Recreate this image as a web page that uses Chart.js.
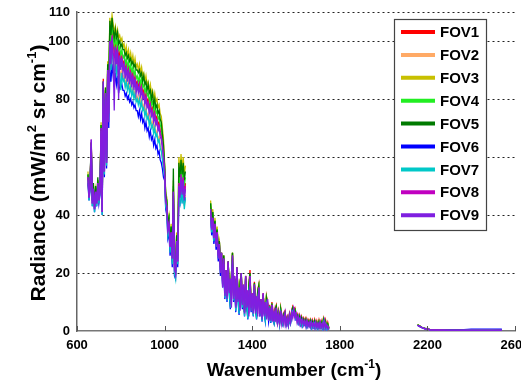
<!DOCTYPE html>
<html>
<head>
<meta charset="utf-8">
<script src="https://cdn.jsdelivr.net/npm/chart.js@4/dist/chart.umd.min.js"></script>
<style>
  html, body { margin: 0; padding: 0; background: #fff; }
</style>
</head>
<body>
<canvas id="spectra" width="521" height="382"></canvas>
<script>
// wavenumber grids of the three bands (cm-1)
const range = (a, b, step) => { const out = []; for (let v = a; v <= b; v += step) out.push(v); return out; };
const wnLW = range(650, 1095, 5);
const wnMW = range(1210, 1750, 5);
const wnSW = [2155, 2165, 2175, 2185, 2195, 2200, 2210, 2250, 2300, 2350, 2400, 2450, 2500, 2540];

const xTicks = [600, 1000, 1400, 1800, 2200, 2600];
const yTicks = [0, 20, 40, 60, 80, 100, 110];

const fovNames = ['FOV1', 'FOV2', 'FOV3', 'FOV4', 'FOV5', 'FOV6', 'FOV7', 'FOV8', 'FOV9'];
const fovColors = ['#ff0000', '#ffaa66', '#c8c000', '#22ee22', '#007a00', '#0000ff', '#00c8c8', '#c000c0', '#7f1fe0'];

// radiance, mW/(m2 sr cm-1) -- long-wave band
const fov1LW = [53,46,51,65,45,49,43,48,45,51,46, 49,71,42,87,56,83,59,91,
  80,103,97,104,99,96,101,95,99,94,96,93, 95,92,93,90,92,89,91,88,90,87,89,86,88,85,86,
  84,86,83,85,82,83,80,82,79,80,77,79,76,77,74,76,73,74,71,72,69,68,65,61,
  56,46,44,36,38,30,35,26,49,23,21,32,25, 52,48,55,49,54,47,51];
const fov2LW = [52,46,50,65,44,48,42,47,44,50,45, 48,69,41,85,55,81,58,89,
  74,96,91,98,92,88,94,90,93,86,90,88, 90,87,88,85,87,84,86,83,85,82,84,81,83,80,81,
  79,81,78,80,77,78,75,77,74,75,72,74,71,72,69,71,68,69,66,67,64,63,60,57,
  54,44,42,34,36,28,33,24,47,21,19,30,23, 48,44,51,45,50,43,47];
const fov3LW = [55,48,52,64,46,50,44,49,46,52,47, 50,72,43,86,58,84,61,93,
  88,108,104,109,106,103,105,102,104,101,102,100, 101,98,99,96,98,95,97,94,96,93,95,92,94,91,92,
  90,92,89,91,88,89,86,88,85,86,83,85,82,83,80,82,79,80,77,78,75,74,70,66,
  58,48,46,38,40,32,37,28,52,24,22,34,27, 60,55,61,56,60,54,57];
const fov4LW = [54,47,52,65,45,50,43,49,45,52,46, 49,71,42,86,57,83,60,92,
  84,105,100,106,102,98,101,98,100,97,98,95, 97,94,95,92,94,91,93,90,92,89,91,88,90,87,88,
  86,88,85,87,84,85,82,84,81,82,79,81,78,79,76,78,75,76,73,74,71,70,66,62,
  57,47,45,37,39,31,36,27,50,23,21,33,26, 56,51,57,52,56,50,53];
const fov5LW = [54,47,53,65,45,51,43,50,45,53,46, 50,71,43,86,57,84,60,92,
  86,107,102,108,104,101,104,101,103,99,100,98, 99,97,97,95,96,94,95,93,94,92,93,91,92,90,90,
  89,90,88,89,86,88,85,86,83,85,82,83,80,82,78,80,77,78,75,76,73,72,68,64,
  57,47,45,37,39,31,36,27,56,24,22,33,26, 58,53,59,54,58,52,55];
const fov6LW = [51,45,49,63,43,47,41,46,43,49,44, 47,68,40,84,53,80,56,86,
  70,90,86,92,88,84,89,85,88,82,85,84, 85,83,83,81,82,80,81,79,80,78,79,77,78,76,76,
  74,76,73,75,72,73,70,72,69,70,67,69,66,67,64,66,63,64,61,62,59,58,56,53,
  52,42,40,32,34,26,31,22,44,19,18,28,22, 46,44,48,45,47,44,46];
const fov7LW = [52,45,50,64,43,48,41,47,43,50,44, 48,69,40,85,54,81,57,88,
  73,95,90,97,93,85,93,89,92,84,89,83, 89,86,87,84,86,83,85,82,84,81,83,80,82,79,80,
  78,80,77,79,76,77,74,76,73,74,71,73,70,71,68,70,67,68,65,66,63,62,59,56,
  53,43,41,33,35,27,32,23,45,20,18,29,23, 47,43,50,44,49,42,46];
const fov8LW = [53,46,51,66,44,49,42,48,44,51,45, 48,70,41,86,55,82,58,90,
  75,100,94,102,96,94,98,94,97,92,94,92, 94,91,92,89,91,88,90,87,89,86,88,85,87,84,85,
  83,85,82,84,81,82,79,81,78,79,76,78,75,76,73,75,72,73,70,71,68,67,64,60,
  55,45,43,35,37,29,34,25,48,22,20,31,24, 51,47,54,48,53,46,50];
const fov9LW = [53,46,51,66,44,49,42,48,44,51,45, 48,70,41,86,55,82,58,90,
  72,100,92,101,94,76,98,92,97,80,95,90, 94,89,92,87,91,86,90,85,89,84,88,83,87,82,85,
  82,84,81,83,80,81,78,80,77,78,75,77,74,75,72,74,71,72,69,70,67,66,63,60,
  55,45,43,35,37,29,34,25,48,22,20,31,24, 50,46,53,47,52,45,49];

// mid-wave band
const fov1MW = [43,37,40,34,38,32,35,28,31,23, 27,19,26,14,21,13,24,16,10,19,
  27,13,18,9,22,14,8,17,20,10, 15,7,19,11,6,16,21,9,13,7,
  17,10,6,14,16,7,11,5,13,8, 5,12,10,5,9,4.5,10,6,4,8,
  9,4.5,7,3.5,8,5,3.5,6.5,7,3.5, 5,3,6,4,7,8.5,7.5,8,5.5,6,
  4,5.5,3.5,5,3,4.5,3.5,4.5,2.5,4, 3,4,2,3.8,2.5,4,2,3.5,1.8,3.8,
  2,3.5,1.8,4.2,2,3.8,1.5,3,1.2];
const fov2MW = [41,35,38,32,36,30,33,26,29,21, 25,17,24,12,19,11,22,14,8.5,17,
  25,11,16,7.5,20,12,6.5,15,18,8.5, 13,5.5,17,9.5,4.5,14,18,7.5,11,5.5,
  15,8.5,4.5,12,14,5.5,9.5,3.8,11,6.5, 3.8,10,8.5,3.8,7.5,3.2,8.5,4.5,2.8,6.5,
  7.5,3.2,5.5,2.3,6.5,3.8,2.3,5,5.5,2.3, 3.8,1.8,4.5,2.8,5.5,7,6,6.5,4.2,4.5,
  2.8,4.2,2.3,3.8,1.8,3.2,2.3,3.2,1.4,2.8, 1.8,3,1.1,2.6,1.4,2.8,1.1,2.3,0.9,2.6,
  1.1,2.3,0.9,3.2,1.1,2.6,0.7,1.8,0.5];
const fov3MW = [45,39,42,35,39,33,36,29,31,23, 27,19,26,14,21,13,24,16,9.5,19,
  27,12.5,18,8.5,22,13.5,7.5,16.5,20,9.5, 14.5,6.5,18.5,10.5,5.5,15.5,19.5,8.5,12.5,6.5,
  16.5,9.5,5.5,13.5,15.5,6.5,10.5,4.5,12.5,7.5, 4.5,11.5,9.5,4.5,8.5,4,9.5,5.5,3.5,7.5,
  8.5,4,6.5,3,7.5,4.5,3,6,6.5,3, 4.5,2.5,5.5,3.5,6.5,8,7,7.5,5,5.5,
  3.5,5,3,4.5,2.5,4,3,4,2,3.5, 2.5,3.6,1.6,3.2,2,3.4,1.6,3,1.4,3.2,
  1.6,3,1.4,3.8,1.6,3.2,1.2,2.4,0.9];
const fov4MW = [44,38,41,34,38,32,35,28,31,23, 27,19,26,14,21,13,24,16,9.5,19,
  27,12.5,18,8.5,22,13.5,7.5,16.5,20,9.5, 14.5,6.5,18.5,10.5,5.5,15.5,19.5,8.5,12.5,6.5,
  16.5,9.5,5.5,13.5,15.5,6.5,10.5,4.5,12.5,7.5, 4.5,11.5,9.5,4.5,8.5,4,9.5,5.5,3.5,7.5,
  8.5,4,6.5,3,7.5,4.5,3,6,6.5,3, 4.5,2.5,5.5,3.5,6.5,8,7,7.5,5,5.5,
  3.5,5,3,4.5,2.5,4,3,4,2,3.5, 2.5,3.6,1.6,3.2,2,3.4,1.6,3,1.4,3.2,
  1.6,3,1.4,3.8,1.6,3.2,1.2,2.4,0.9];
const fov5MW = [44,38,41,35,38,32,35,28,31,23, 27,19,26,14,21,13,24,16,10,19,
  27,13,18,9,22,14,7.5,17,20,9.5, 15,6.5,19,10.5,5.5,16,20,8.5,12.5,6.5,
  16.5,9.5,5.5,13.5,15.5,6.5,10.5,4.5,12.5,7.5, 4.5,11.5,9.5,4.5,8.5,4,9.5,5.5,3.5,7.5,
  8.5,4,6.5,3,7.5,4.5,3,6,6.5,3, 4.5,2.5,5.5,3.5,6.5,8,7,7.5,5,5.5,
  3.5,5,3,4.5,2.5,4,3,4,2,3.5, 2.5,3.6,1.6,3.2,2,3.4,1.6,3,1.4,3.2,
  1.6,3,1.4,3.8,1.6,3.2,1.2,2.4,0.9];
const fov6MW = [39,33,36,30,34,28,31,24,27,19, 23,15,22,11,17,10,20,13,7.5,15.5,
  23,10,14.5,6.5,18,11,5.5,13.5,16.5,7.5, 12,5,15.5,8.5,4,13,16.5,6.5,10,5,
  13.5,7.5,4,11,13,5,8.5,3.2,10,5.8, 3.2,9,7.5,3.2,6.5,2.8,7.5,4,2.5,5.8,
  6.5,2.8,5,2,5.8,3.2,2,4.5,5,2, 3.2,1.6,4,2.5,5,6.5,5.5,6,3.8,4,
  2.5,3.8,2,3.2,1.6,2.8,2,2.8,1.2,2.5, 1.6,2.6,1,2.3,1.2,2.5,1,2,0.8,2.3,
  1,2,0.8,2.8,1,2.3,0.6,1.6,0.5];
const fov7MW = [40,34,37,31,35,29,32,25,28,20, 24,16,23,11.5,18,10.5,21,13.5,8,16,
  24,10.5,15,7,19,11.5,6,14,17,8, 12.5,5.2,16,9,4.2,13.5,17,7,10.5,5.2,
  14,8,4.2,11.5,13.5,5.2,9,3.5,10.5,6.2, 3.5,9.5,8,3.5,7,3,8,4.2,2.6,6.2,
  7,3,5.2,2.2,6.2,3.5,2.2,4.8,5.2,2.2, 3.5,1.7,4.2,2.6,5.2,6.8,5.8,6.2,4,4.2,
  2.6,4,2.2,3.5,1.7,3,2.2,3,1.3,2.6, 1.7,2.8,1,2.4,1.3,2.6,1,2.2,0.8,2.4,
  1,2.2,0.8,3,1,2.4,0.6,1.7,0.5];
const fov8MW = [42,35,39,32,37,30,34,26,30,21, 27,16,25,13,21,12,24,14,18,9,
  26,12,19,9,22,11,15,8,20,10, 16,7,19,9,14,6,19,8,13,7,
  16,7,12,6,15,6,11,5,13,6, 10,5,11,4,8,4,9,3.5,7,3.5,
  8,3,6,3,7,3,5,3,6,2.5, 4.5,2.5,5.5,3.5,6.5,5,7.5,5,6,3.5,
  5,3,4.5,2.5,4,2.5,3.5,2,3.5,2, 3,1.6,3.2,1.6,2.8,1.4,3,1.4,2.5,1.4,
  3,1.4,2.5,1.2,3.5,1.2,2,1,1.5];
const fov9MW = [42,35,39,32,37,29,34,25,30,20, 27,15,25,12,21,11,24,13,18,8,
  26,11,19,8,22,10,15,7,20,9, 16,6,19,8,14,5,19,7,13,6,
  16,6,12,5,15,5,11,4,13,5, 10,4,11,3.5,8,3.5,9,3,7,3,
  8,2.5,6,2.5,7,2.5,5,2.5,6,2, 4.5,2,5.5,3,6.5,4.5,7.5,4.5,6,3,
  5,2.5,4.5,2,4,2,3.5,1.5,3.5,1.5, 3,1.2,3.2,1.2,2.8,1,3,1,2.5,1,
  3,1,2.5,0.8,3.5,0.8,2,0.6,1.5];

// short-wave band
const fov1SW = [2.1,1.7,1.3,1.0,0.7,0.9,0.5,0.4,0.35,0.35,0.35,0.35,0.35,0.3];
const fov2SW = [2.0,1.6,1.2,0.9,0.6,0.9,0.4,0.35,0.3,0.3,0.3,0.3,0.3,0.3];
const fov3SW = [2.2,1.8,1.3,1.0,0.7,1.0,0.5,0.4,0.35,0.35,0.35,0.35,0.35,0.3];
const fov4SW = [2.1,1.7,1.3,1.0,0.7,0.9,0.5,0.4,0.35,0.35,0.35,0.35,0.35,0.3];
const fov5SW = [2.1,1.7,1.3,1.0,0.7,0.9,0.5,0.4,0.35,0.35,0.35,0.35,0.35,0.3];
const fov6SW = [1.9,1.5,1.1,0.8,0.5,0.8,0.4,0.35,0.35,0.4,0.6,0.65,0.65,0.6];
const fov7SW = [2.0,1.6,1.2,0.9,0.6,0.8,0.4,0.35,0.3,0.3,0.35,0.35,0.35,0.3];
const fov8SW = [2.0,1.6,1.2,0.9,0.6,0.9,0.4,0.35,0.3,0.3,0.3,0.3,0.3,0.3];
const fov9SW = [2.0,1.6,1.2,0.9,0.6,1.0,0.35,0.3,0.25,0.25,0.2,0.2,0.2,0.2];

const bandsLW = [fov1LW, fov2LW, fov3LW, fov4LW, fov5LW, fov6LW, fov7LW, fov8LW, fov9LW];
const bandsMW = [fov1MW, fov2MW, fov3MW, fov4MW, fov5MW, fov6MW, fov7MW, fov8MW, fov9MW];
const bandsSW = [fov1SW, fov2SW, fov3SW, fov4SW, fov5SW, fov6SW, fov7SW, fov8SW, fov9SW];

// one line per FOV, with breaks between the bands
function spectrum(lw, mw, sw) {
  return [
    ...wnLW.map((x, i) => ({ x, y: lw[i] })),
    { x: 1150, y: null },
    ...wnMW.map((x, i) => ({ x, y: mw[i] })),
    { x: 1950, y: null },
    ...wnSW.map((x, i) => ({ x, y: sw[i] })),
  ];
}

const FONT = "'Liberation Sans', Arial, sans-serif";

// legend box in the upper right of the plot
const legendBox = {
  id: 'legendBox',
  afterDraw(chart) {
    const ctx = chart.ctx;
    const left = 394.5, top = 19.5, w = 92, h = 211;
    ctx.save();
    ctx.fillStyle = '#fff';
    ctx.fillRect(left, top, w, h);
    ctx.strokeStyle = '#444';
    ctx.lineWidth = 1.2;
    ctx.strokeRect(left, top, w, h);
    ctx.font = 'bold 15px ' + FONT;
    ctx.textBaseline = 'middle';
    ctx.fillStyle = '#000';
    chart.data.datasets.forEach((ds, i) => {
      const y = 32 + i * 22.9;
      ctx.strokeStyle = ds.borderColor;
      ctx.lineWidth = 4;
      ctx.beginPath();
      ctx.moveTo(401, y);
      ctx.lineTo(435, y);
      ctx.stroke();
      ctx.fillText(ds.label, 440, y + 1);
    });
    ctx.restore();
  }
};

// axis titles with superscripts, and the small inward ticks on the x axis
function drawParts(ctx, parts, x, baseline, size) {
  let cx = x;
  parts.forEach(([text, sup]) => {
    ctx.font = 'bold ' + (sup ? Math.round(size * 0.62) : size) + 'px ' + FONT;
    ctx.fillText(text, cx, sup ? baseline - size * 0.42 : baseline);
    cx += ctx.measureText(text).width;
  });
}
function partsWidth(ctx, parts, size) {
  return parts.reduce((w, [text, sup]) => {
    ctx.font = 'bold ' + (sup ? Math.round(size * 0.62) : size) + 'px ' + FONT;
    return w + ctx.measureText(text).width;
  }, 0);
}

const axisDecor = {
  id: 'axisDecor',
  afterDraw(chart) {
    const ctx = chart.ctx;
    const xs = chart.scales.x;
    const bottom = chart.chartArea.bottom;
    ctx.save();
    ctx.strokeStyle = '#555';
    ctx.lineWidth = 1;
    xTicks.forEach(v => {
      const px = Math.round(xs.getPixelForValue(v)) + 0.5;
      ctx.beginPath();
      ctx.moveTo(px, bottom);
      ctx.lineTo(px, bottom - 5);
      ctx.stroke();
    });

    ctx.fillStyle = '#000';
    ctx.textAlign = 'left';
    ctx.textBaseline = 'alphabetic';

    const xParts = [['Wavenumber (cm', false], ['-1', true], [')', false]];
    const xSize = 19;
    const xw = partsWidth(ctx, xParts, xSize);
    drawParts(ctx, xParts, 294 - xw / 2, 376, xSize);

    const yParts = [['Radiance (mW/m', false], ['2', true], [' sr cm', false], ['-1', true], [')', false]];
    const ySize = 21;
    const yw = partsWidth(ctx, yParts, ySize);
    ctx.translate(44.5, 173);
    ctx.rotate(-Math.PI / 2);
    drawParts(ctx, yParts, -yw / 2, 0, ySize);
    ctx.restore();
  }
};

const ctx = document.getElementById('spectra').getContext('2d');

new Chart(ctx, {
  type: 'line',
  data: {
    datasets: fovNames.map((name, i) => ({
      label: name,
      data: spectrum(bandsLW[i], bandsMW[i], bandsSW[i]),
      borderColor: fovColors[i],
      backgroundColor: fovColors[i],
      borderWidth: 1.3,
      pointRadius: 0,
      tension: 0,
      fill: false,
      spanGaps: false,
      order: fovNames.length - 1 - i,
    })),
  },
  options: {
    responsive: false,
    animation: false,
    events: [],
    layout: { padding: { top: 12, right: 6, left: 0, bottom: 0 } },
    plugins: {
      legend: { display: false },
      tooltip: { enabled: false },
    },
    scales: {
      x: {
        type: 'linear',
        min: 600,
        max: 2600,
        afterBuildTicks: s => { s.ticks = xTicks.map(v => ({ value: v })); },
        afterFit: s => { s.height = 51; s.paddingLeft = 0; s.paddingRight = 0; },
        grid: { display: false },
        border: { display: true, color: '#777', width: 1.5 },
        ticks: {
          autoSkip: false,
          maxRotation: 0,
          padding: -1,
          color: '#000',
          font: { family: FONT, size: 13, weight: 'bold' },
          callback: v => String(v),
        },
      },
      y: {
        min: 0,
        max: 110,
        afterBuildTicks: s => { s.ticks = yTicks.map(v => ({ value: v })); },
        afterFit: s => { s.width = 77; s.paddingTop = 0; s.paddingBottom = 0; },
        grid: {
          drawTicks: false,
          lineWidth: 1,
          color: c => (c.tick && c.tick.value === 0 ? 'rgba(0,0,0,0)' : '#222'),
        },
        border: { display: true, color: '#666', width: 1.5, dash: [2, 3] },
        ticks: {
          padding: 7,
          color: '#000',
          font: { family: FONT, size: 13, weight: 'bold' },
        },
      },
    },
  },
  plugins: [legendBox, axisDecor],
});
</script>
</body>
</html>
